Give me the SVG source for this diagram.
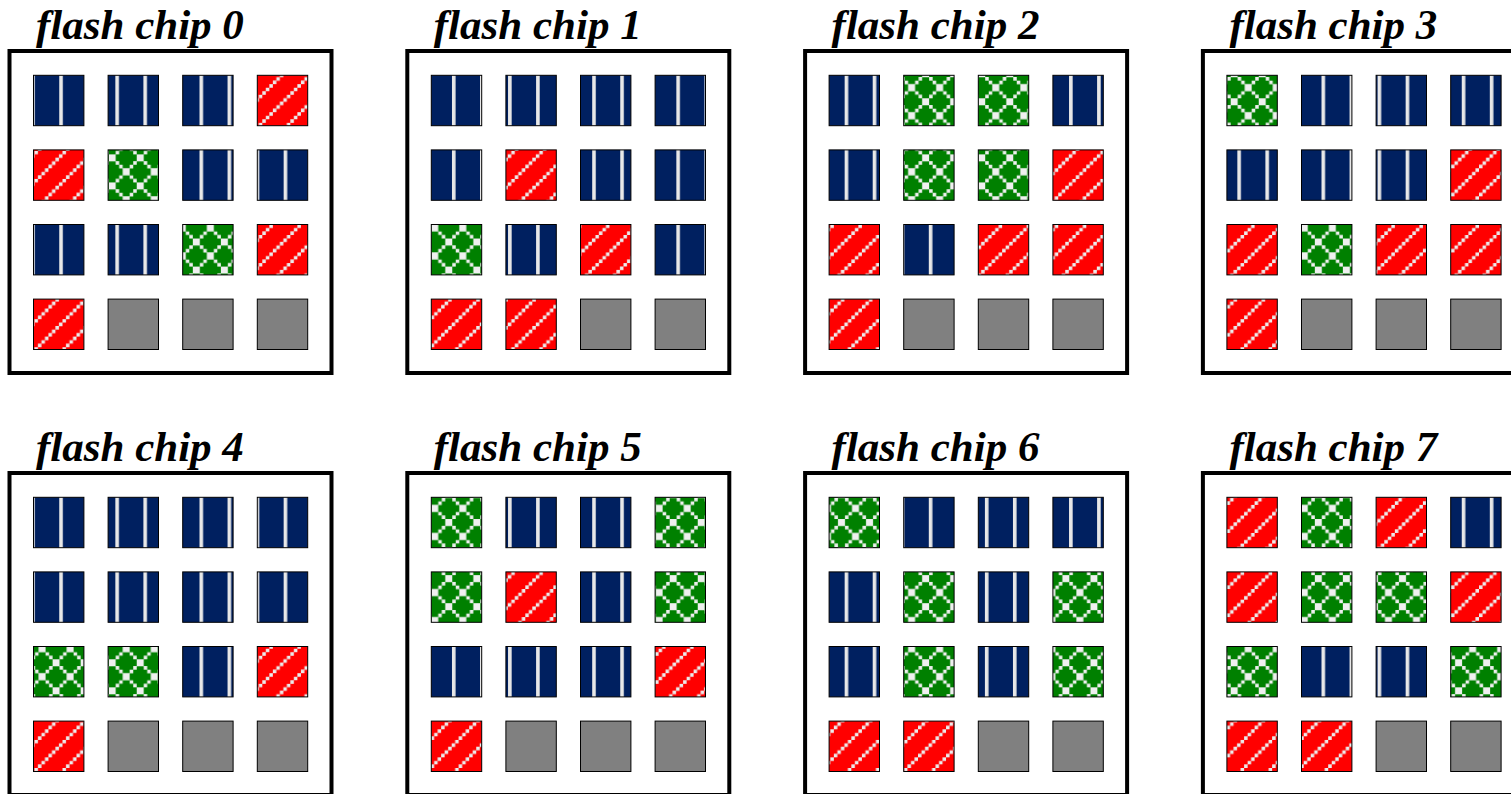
<svg xmlns="http://www.w3.org/2000/svg" width="1511" height="794" viewBox="0 0 1511 794">
<defs>
<pattern id="pn" patternUnits="userSpaceOnUse" x="3.15" y="0" width="28.05" height="28.05"><rect width="28.05" height="28.05" fill="#002060"/><rect x="0" y="0" width="3.6" height="28.05" fill="#e8e8e8"/></pattern>
<pattern id="pr" patternUnits="userSpaceOnUse" x="20.4" y="0" width="28.05" height="28.05"><rect width="28.05" height="28.05" fill="#ff0000"/><path fill="#ececec" d="M0,24.54h3.51v3.51h-3.51zM3.51,21.04h3.51v3.51h-3.51zM7.01,17.53h3.51v3.51h-3.51zM10.52,14.03h3.51v3.51h-3.51zM14.03,10.52h3.51v3.51h-3.51zM17.53,7.01h3.51v3.51h-3.51zM21.04,3.51h3.51v3.51h-3.51zM24.54,0h3.51v3.51h-3.51z"/></pattern>
<pattern id="pg" patternUnits="userSpaceOnUse" x="14" y="3.5" width="28.05" height="28.05"><rect width="28.05" height="28.05" fill="#008000"/><path fill="#f0f0f0" d="M0,24.54h3.51v3.51h-3.51zM3.51,21.04h3.51v3.51h-3.51zM7.01,17.53h3.51v3.51h-3.51zM10.52,14.03h3.51v3.51h-3.51zM14.03,10.52h3.51v3.51h-3.51zM17.53,7.01h3.51v3.51h-3.51zM21.04,3.51h3.51v3.51h-3.51zM24.54,0h3.51v3.51h-3.51zM0,0h3.51v3.51h-3.51zM3.51,3.51h3.51v3.51h-3.51zM7.01,7.01h3.51v3.51h-3.51zM10.52,10.52h3.51v3.51h-3.51zM14.03,14.03h3.51v3.51h-3.51zM17.53,17.53h3.51v3.51h-3.51zM21.04,21.04h3.51v3.51h-3.51zM24.54,24.54h3.51v3.51h-3.51z"/></pattern>
</defs>
<style>
.box{fill:#fff;stroke:#000;stroke-width:4}
.t{font-family:"Liberation Serif","Times New Roman",serif;font-weight:bold;font-style:italic;font-size:43px;fill:#000}
.sq{stroke:#000;stroke-width:1}
.n{fill:url(#pn)}
.r{fill:url(#pr)}
.g{fill:url(#pg)}
.x{fill:#808080}
</style>
<rect width="1511" height="794" fill="#fff"/>

<g id="chip0">
<text class="t" x="36" y="39">flash chip 0</text>
<rect class="box" x="9.5" y="51" width="322" height="322"/>
<rect class="sq n" x="33.5" y="75.3" width="50.4" height="50.4"/>
<rect class="sq n" x="108.1" y="75.3" width="50.4" height="50.4"/>
<rect class="sq n" x="182.7" y="75.3" width="50.4" height="50.4"/>
<rect class="sq r" x="257.3" y="75.3" width="50.4" height="50.4"/>
<rect class="sq r" x="33.5" y="149.9" width="50.4" height="50.4"/>
<rect class="sq g" x="108.1" y="149.9" width="50.4" height="50.4"/>
<rect class="sq n" x="182.7" y="149.9" width="50.4" height="50.4"/>
<rect class="sq n" x="257.3" y="149.9" width="50.4" height="50.4"/>
<rect class="sq n" x="33.5" y="224.5" width="50.4" height="50.4"/>
<rect class="sq n" x="108.1" y="224.5" width="50.4" height="50.4"/>
<rect class="sq g" x="182.7" y="224.5" width="50.4" height="50.4"/>
<rect class="sq r" x="257.3" y="224.5" width="50.4" height="50.4"/>
<rect class="sq r" x="33.5" y="299.1" width="50.4" height="50.4"/>
<rect class="sq x" x="108.1" y="299.1" width="50.4" height="50.4"/>
<rect class="sq x" x="182.7" y="299.1" width="50.4" height="50.4"/>
<rect class="sq x" x="257.3" y="299.1" width="50.4" height="50.4"/>
</g>

<g id="chip1">
<text class="t" x="433.8" y="39">flash chip 1</text>
<rect class="box" x="407.3" y="51" width="322" height="322"/>
<rect class="sq n" x="431.3" y="75.3" width="50.4" height="50.4"/>
<rect class="sq n" x="505.9" y="75.3" width="50.4" height="50.4"/>
<rect class="sq n" x="580.5" y="75.3" width="50.4" height="50.4"/>
<rect class="sq n" x="655.1" y="75.3" width="50.4" height="50.4"/>
<rect class="sq n" x="431.3" y="149.9" width="50.4" height="50.4"/>
<rect class="sq r" x="505.9" y="149.9" width="50.4" height="50.4"/>
<rect class="sq n" x="580.5" y="149.9" width="50.4" height="50.4"/>
<rect class="sq n" x="655.1" y="149.9" width="50.4" height="50.4"/>
<rect class="sq g" x="431.3" y="224.5" width="50.4" height="50.4"/>
<rect class="sq n" x="505.9" y="224.5" width="50.4" height="50.4"/>
<rect class="sq r" x="580.5" y="224.5" width="50.4" height="50.4"/>
<rect class="sq n" x="655.1" y="224.5" width="50.4" height="50.4"/>
<rect class="sq r" x="431.3" y="299.1" width="50.4" height="50.4"/>
<rect class="sq r" x="505.9" y="299.1" width="50.4" height="50.4"/>
<rect class="sq x" x="580.5" y="299.1" width="50.4" height="50.4"/>
<rect class="sq x" x="655.1" y="299.1" width="50.4" height="50.4"/>
</g>

<g id="chip2">
<text class="t" x="831.6" y="39">flash chip 2</text>
<rect class="box" x="805.1" y="51" width="322" height="322"/>
<rect class="sq n" x="829.1" y="75.3" width="50.4" height="50.4"/>
<rect class="sq g" x="903.7" y="75.3" width="50.4" height="50.4"/>
<rect class="sq g" x="978.3" y="75.3" width="50.4" height="50.4"/>
<rect class="sq n" x="1052.9" y="75.3" width="50.4" height="50.4"/>
<rect class="sq n" x="829.1" y="149.9" width="50.4" height="50.4"/>
<rect class="sq g" x="903.7" y="149.9" width="50.4" height="50.4"/>
<rect class="sq g" x="978.3" y="149.9" width="50.4" height="50.4"/>
<rect class="sq r" x="1052.9" y="149.9" width="50.4" height="50.4"/>
<rect class="sq r" x="829.1" y="224.5" width="50.4" height="50.4"/>
<rect class="sq n" x="903.7" y="224.5" width="50.4" height="50.4"/>
<rect class="sq r" x="978.3" y="224.5" width="50.4" height="50.4"/>
<rect class="sq r" x="1052.9" y="224.5" width="50.4" height="50.4"/>
<rect class="sq r" x="829.1" y="299.1" width="50.4" height="50.4"/>
<rect class="sq x" x="903.7" y="299.1" width="50.4" height="50.4"/>
<rect class="sq x" x="978.3" y="299.1" width="50.4" height="50.4"/>
<rect class="sq x" x="1052.9" y="299.1" width="50.4" height="50.4"/>
</g>

<g id="chip3">
<text class="t" x="1229.4" y="39">flash chip 3</text>
<rect class="box" x="1202.9" y="51" width="322" height="322"/>
<rect class="sq g" x="1226.9" y="75.3" width="50.4" height="50.4"/>
<rect class="sq n" x="1301.5" y="75.3" width="50.4" height="50.4"/>
<rect class="sq n" x="1376.1" y="75.3" width="50.4" height="50.4"/>
<rect class="sq n" x="1450.7" y="75.3" width="50.4" height="50.4"/>
<rect class="sq n" x="1226.9" y="149.9" width="50.4" height="50.4"/>
<rect class="sq n" x="1301.5" y="149.9" width="50.4" height="50.4"/>
<rect class="sq n" x="1376.1" y="149.9" width="50.4" height="50.4"/>
<rect class="sq r" x="1450.7" y="149.9" width="50.4" height="50.4"/>
<rect class="sq r" x="1226.9" y="224.5" width="50.4" height="50.4"/>
<rect class="sq g" x="1301.5" y="224.5" width="50.4" height="50.4"/>
<rect class="sq r" x="1376.1" y="224.5" width="50.4" height="50.4"/>
<rect class="sq r" x="1450.7" y="224.5" width="50.4" height="50.4"/>
<rect class="sq r" x="1226.9" y="299.1" width="50.4" height="50.4"/>
<rect class="sq x" x="1301.5" y="299.1" width="50.4" height="50.4"/>
<rect class="sq x" x="1376.1" y="299.1" width="50.4" height="50.4"/>
<rect class="sq x" x="1450.7" y="299.1" width="50.4" height="50.4"/>
</g>

<g id="chip4">
<text class="t" x="36" y="461">flash chip 4</text>
<rect class="box" x="9.5" y="473" width="322" height="322"/>
<rect class="sq n" x="33.5" y="497.3" width="50.4" height="50.4"/>
<rect class="sq n" x="108.1" y="497.3" width="50.4" height="50.4"/>
<rect class="sq n" x="182.7" y="497.3" width="50.4" height="50.4"/>
<rect class="sq n" x="257.3" y="497.3" width="50.4" height="50.4"/>
<rect class="sq n" x="33.5" y="571.9" width="50.4" height="50.4"/>
<rect class="sq n" x="108.1" y="571.9" width="50.4" height="50.4"/>
<rect class="sq n" x="182.7" y="571.9" width="50.4" height="50.4"/>
<rect class="sq n" x="257.3" y="571.9" width="50.4" height="50.4"/>
<rect class="sq g" x="33.5" y="646.5" width="50.4" height="50.4"/>
<rect class="sq g" x="108.1" y="646.5" width="50.4" height="50.4"/>
<rect class="sq n" x="182.7" y="646.5" width="50.4" height="50.4"/>
<rect class="sq r" x="257.3" y="646.5" width="50.4" height="50.4"/>
<rect class="sq r" x="33.5" y="721.1" width="50.4" height="50.4"/>
<rect class="sq x" x="108.1" y="721.1" width="50.4" height="50.4"/>
<rect class="sq x" x="182.7" y="721.1" width="50.4" height="50.4"/>
<rect class="sq x" x="257.3" y="721.1" width="50.4" height="50.4"/>
</g>

<g id="chip5">
<text class="t" x="433.8" y="461">flash chip 5</text>
<rect class="box" x="407.3" y="473" width="322" height="322"/>
<rect class="sq g" x="431.3" y="497.3" width="50.4" height="50.4"/>
<rect class="sq n" x="505.9" y="497.3" width="50.4" height="50.4"/>
<rect class="sq n" x="580.5" y="497.3" width="50.4" height="50.4"/>
<rect class="sq g" x="655.1" y="497.3" width="50.4" height="50.4"/>
<rect class="sq g" x="431.3" y="571.9" width="50.4" height="50.4"/>
<rect class="sq r" x="505.9" y="571.9" width="50.4" height="50.4"/>
<rect class="sq n" x="580.5" y="571.9" width="50.4" height="50.4"/>
<rect class="sq g" x="655.1" y="571.9" width="50.4" height="50.4"/>
<rect class="sq n" x="431.3" y="646.5" width="50.4" height="50.4"/>
<rect class="sq n" x="505.9" y="646.5" width="50.4" height="50.4"/>
<rect class="sq n" x="580.5" y="646.5" width="50.4" height="50.4"/>
<rect class="sq r" x="655.1" y="646.5" width="50.4" height="50.4"/>
<rect class="sq r" x="431.3" y="721.1" width="50.4" height="50.4"/>
<rect class="sq x" x="505.9" y="721.1" width="50.4" height="50.4"/>
<rect class="sq x" x="580.5" y="721.1" width="50.4" height="50.4"/>
<rect class="sq x" x="655.1" y="721.1" width="50.4" height="50.4"/>
</g>

<g id="chip6">
<text class="t" x="831.6" y="461">flash chip 6</text>
<rect class="box" x="805.1" y="473" width="322" height="322"/>
<rect class="sq g" x="829.1" y="497.3" width="50.4" height="50.4"/>
<rect class="sq n" x="903.7" y="497.3" width="50.4" height="50.4"/>
<rect class="sq n" x="978.3" y="497.3" width="50.4" height="50.4"/>
<rect class="sq n" x="1052.9" y="497.3" width="50.4" height="50.4"/>
<rect class="sq n" x="829.1" y="571.9" width="50.4" height="50.4"/>
<rect class="sq g" x="903.7" y="571.9" width="50.4" height="50.4"/>
<rect class="sq n" x="978.3" y="571.9" width="50.4" height="50.4"/>
<rect class="sq g" x="1052.9" y="571.9" width="50.4" height="50.4"/>
<rect class="sq n" x="829.1" y="646.5" width="50.4" height="50.4"/>
<rect class="sq g" x="903.7" y="646.5" width="50.4" height="50.4"/>
<rect class="sq n" x="978.3" y="646.5" width="50.4" height="50.4"/>
<rect class="sq g" x="1052.9" y="646.5" width="50.4" height="50.4"/>
<rect class="sq r" x="829.1" y="721.1" width="50.4" height="50.4"/>
<rect class="sq r" x="903.7" y="721.1" width="50.4" height="50.4"/>
<rect class="sq x" x="978.3" y="721.1" width="50.4" height="50.4"/>
<rect class="sq x" x="1052.9" y="721.1" width="50.4" height="50.4"/>
</g>

<g id="chip7">
<text class="t" x="1229.4" y="461">flash chip 7</text>
<rect class="box" x="1202.9" y="473" width="322" height="322"/>
<rect class="sq r" x="1226.9" y="497.3" width="50.4" height="50.4"/>
<rect class="sq g" x="1301.5" y="497.3" width="50.4" height="50.4"/>
<rect class="sq r" x="1376.1" y="497.3" width="50.4" height="50.4"/>
<rect class="sq n" x="1450.7" y="497.3" width="50.4" height="50.4"/>
<rect class="sq r" x="1226.9" y="571.9" width="50.4" height="50.4"/>
<rect class="sq g" x="1301.5" y="571.9" width="50.4" height="50.4"/>
<rect class="sq g" x="1376.1" y="571.9" width="50.4" height="50.4"/>
<rect class="sq r" x="1450.7" y="571.9" width="50.4" height="50.4"/>
<rect class="sq g" x="1226.9" y="646.5" width="50.4" height="50.4"/>
<rect class="sq n" x="1301.5" y="646.5" width="50.4" height="50.4"/>
<rect class="sq n" x="1376.1" y="646.5" width="50.4" height="50.4"/>
<rect class="sq g" x="1450.7" y="646.5" width="50.4" height="50.4"/>
<rect class="sq r" x="1226.9" y="721.1" width="50.4" height="50.4"/>
<rect class="sq r" x="1301.5" y="721.1" width="50.4" height="50.4"/>
<rect class="sq x" x="1376.1" y="721.1" width="50.4" height="50.4"/>
<rect class="sq x" x="1450.7" y="721.1" width="50.4" height="50.4"/>
</g>
</svg>
